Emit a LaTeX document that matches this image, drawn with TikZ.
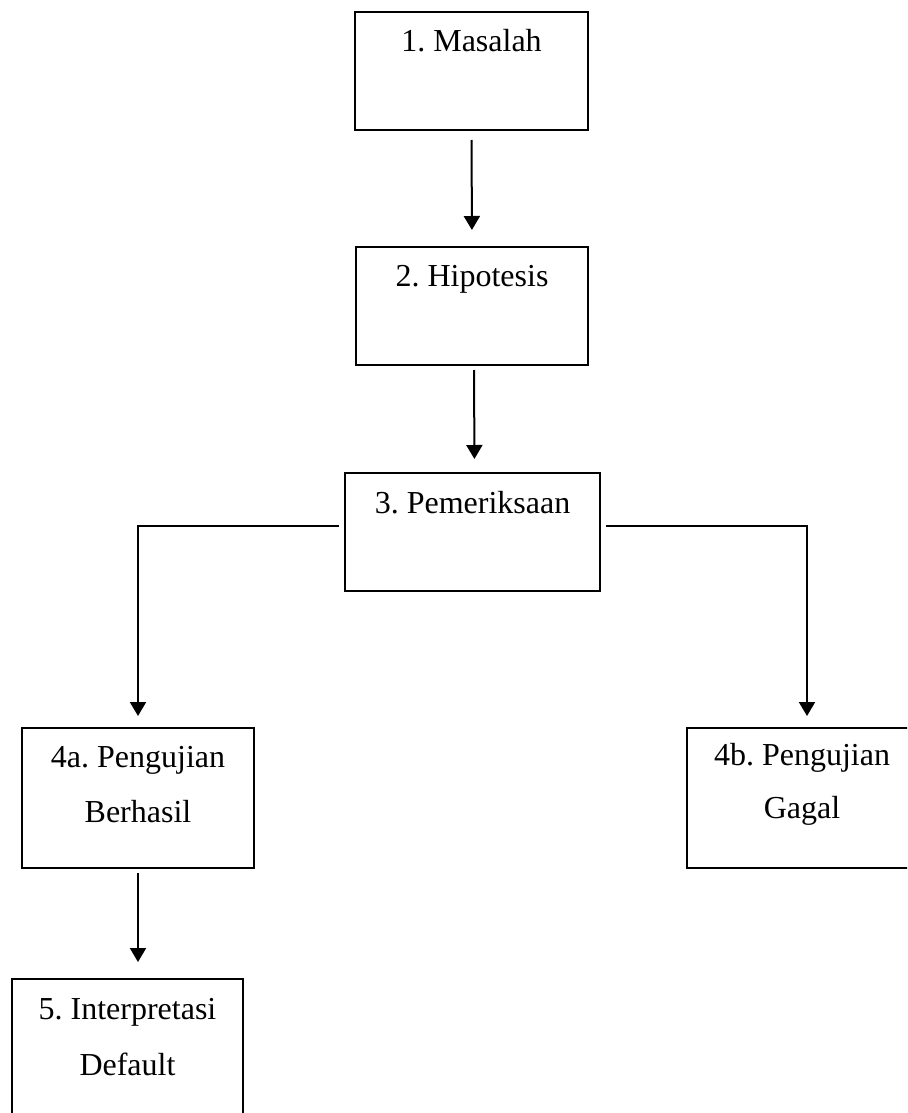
\documentclass[tikz,border=0pt]{standalone}
\usepackage{fontspec}
\setmainfont{Liberation Serif}
\usetikzlibrary{arrows.meta}
\frenchspacing
\begin{document}
\begin{tikzpicture}[x=1pt,y=-1pt,
  stepbox/.style={draw, line width=2pt, rectangle, inner sep=0pt},
  lbl/.style={anchor=base, inner sep=0pt, font=\fontsize{32}{38}\selectfont},
  arr/.style={line width=2pt, -{Triangle[width=16pt,length=14pt]}},
  ln/.style={line width=2pt}]
\clip (0,0) rectangle (907,1113);
\fill[white] (0,0) rectangle (907,1113);

\node[stepbox, minimum width=233pt, minimum height=118pt,
  label={[lbl,yshift=-41pt]north:1. Masalah}] (b1) at (471.5,71) {};
\node[stepbox, minimum width=232pt, minimum height=118pt,
  label={[lbl,yshift=-40pt]north:2. Hipotesis}] (b2) at (472,306) {};
\node[stepbox, minimum width=255pt, minimum height=118pt,
  label={[lbl,yshift=-41pt]north:3. Pemeriksaan}] (b3) at (472.5,532) {};
\node[stepbox, minimum width=232pt, minimum height=140pt,
  label={[lbl,yshift=-40pt]north:4a. Pengujian},
  label={[lbl,yshift=-95pt]north:Berhasil}] (b4a) at (138,798) {};
\node[stepbox, minimum width=240pt, minimum height=140pt,
  label={[lbl,yshift=-38pt,xshift=-5pt]north:4b. Pengujian},
  label={[lbl,yshift=-91pt,xshift=-5pt]north:Gagal}] (b4b) at (807,798) {};
\node[stepbox, minimum width=231pt, minimum height=140pt,
  label={[lbl,yshift=-41pt]north:5. Interpretasi},
  label={[lbl,yshift=-97pt]north:Default}] (b5) at (127.5,1049) {};

\draw[arr, shorten <=9pt, shorten >=16pt] (b1.south) -- (b2.north);
\draw[arr, shorten <=4pt, shorten >=13pt] ([xshift=2pt]b2.south) -- ([xshift=2pt]b3.north);
\draw[arr, shorten >=11pt] ([shift={(-5pt,6pt)}]b3.west) -| (b4a.north);
\draw[arr, shorten >=11pt] ([shift={(5pt,6pt)}]b3.east) -| (b4b.north);
\draw[arr, shorten <=4pt, shorten >=16pt] (b4a.south) -- (b4a.south |- b5.north);
\end{tikzpicture}
\end{document}
